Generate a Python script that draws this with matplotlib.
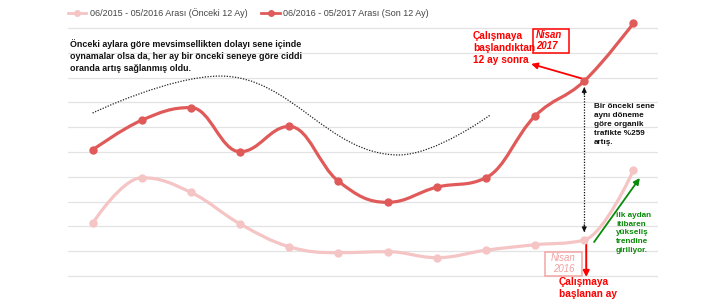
import numpy as np
import matplotlib
matplotlib.use("Agg")
import matplotlib.pyplot as plt
from matplotlib.path import Path
from matplotlib.patches import PathPatch, Rectangle

# monthly organic traffic (in grid units, no axis labels on the chart)
months = np.arange(12)
prev_year = [2.12, 3.96, 3.37, 2.10, 1.18, 0.94, 0.98, 0.74, 1.04, 1.26, 1.45, 4.26]
this_year = [5.08, 6.28, 6.79, 5.01, 6.03, 3.82, 2.97, 3.58, 3.96, 6.45, 7.86, 10.19]
labels = ["06/2015 - 05/2016 Arası (Önceki 12 Ay)", "06/2016 - 05/2017 Arası (Son 12 Ay)"]

# hand-drawn dotted trend sketch over the chart
trend_x = [0, 2.6, 6.23, 8.08]
trend_y = [6.57, 8.06, 4.88, 6.48]

LIGHT = "#f5c4c4"
DARK = "#e05a5a"
RED = "#ff0000"
GREEN = "#0a8a0a"
FONT = "Liberation Sans"
W, H = 724, 300


def spline_path(xs, ys, smoothing=1.5):
    # highcharts style spline: cubic beziers through every point
    n = len(xs)
    right = [None] * n
    left = [None] * n
    d = smoothing + 1
    for i in range(1, n - 1):
        px, py = xs[i], ys[i]
        lx, ly = xs[i - 1], ys[i - 1]
        nx, ny = xs[i + 1], ys[i + 1]
        lcx, lcy = (smoothing * px + lx) / d, (smoothing * py + ly) / d
        rcx, rcy = (smoothing * px + nx) / d, (smoothing * py + ny) / d
        corr = (rcy - lcy) * (rcx - px) / (rcx - lcx) + py - rcy
        lcy += corr
        rcy += corr
        if lcy > ly and lcy > py:
            lcy = max(ly, py); rcy = 2 * py - lcy
        elif lcy < ly and lcy < py:
            lcy = min(ly, py); rcy = 2 * py - lcy
        if rcy > ny and rcy > py:
            rcy = max(ny, py); lcy = 2 * py - rcy
        elif rcy < ny and rcy < py:
            rcy = min(ny, py); lcy = 2 * py - rcy
        left[i] = (lcx, lcy)
        right[i] = (rcx, rcy)
    verts = [(xs[0], ys[0])]
    codes = [Path.MOVETO]
    for i in range(1, n):
        c1 = right[i - 1] or (xs[i - 1], ys[i - 1])
        c2 = left[i] or (xs[i], ys[i])
        verts += [c1, c2, (xs[i], ys[i])]
        codes += [Path.CURVE4] * 3
    return Path(verts, codes)


fig = plt.figure(figsize=(W / 100, H / 100), dpi=100)
ax = fig.add_axes([68 / W, 1 - 283 / H, 590 / W, 263 / H])
ax.set_xlim(-0.5, 11.5)
ax.set_ylim(-0.282, 10.32)
ax.set_yticks(range(11))
ax.set_xticks([])
ax.tick_params(left=False, labelleft=False)
ax.grid(axis="y", color="#e3e3e3", lw=0.9)
ax.set_axisbelow(True)
for s in ax.spines.values():
    s.set_visible(False)

for vals, col in [(prev_year, LIGHT), (this_year, DARK)]:
    ax.add_patch(PathPatch(spline_path(months, vals), fill=False, ec=col, lw=2.3,
                           capstyle="round", joinstyle="round", zorder=3))
    ax.plot(months, vals, "o", color=col, ms=6, mec="none", zorder=4, clip_on=False)

ax.add_patch(PathPatch(spline_path(trend_x, trend_y), fill=False, ec="#222222",
                       lw=0.9, ls=(0, (1, 1.2)), zorder=2))

# legend drawn by hand to match the original placement
for (x0, x1, tx), col, lab in zip([(68, 86, 90), (261, 280, 283)], [LIGHT, DARK], labels):
    fig.add_artist(plt.Line2D([x0 / W, x1 / W], [1 - 13 / H] * 2, color=col, lw=2,
                              transform=fig.transFigure))
    fig.add_artist(plt.Line2D([(x0 + x1) / 2 / W], [1 - 13 / H], marker="o", ms=5,
                              color=col, mec="none", transform=fig.transFigure))
    fig.text(tx / W, 1 - 13 / H, lab, fontsize=6.5, color="#444444", family=FONT,
             va="center", ha="left")


def ftext(x, y, s, **kw):
    kw.setdefault("family", FONT)
    kw.setdefault("fontweight", "bold")
    fig.text(x / W, 1 - y / H, s, va="top", ha="left", **kw)


def fbox(x0, y0, x1, y1, col):
    fig.add_artist(Rectangle((x0 / W, 1 - y1 / H), (x1 - x0) / W, (y1 - y0) / H,
                             fill=False, ec=col, lw=1.1, transform=fig.transFigure))


ftext(70, 39, "Önceki aylara göre mevsimsellikten dolayı sene içinde\n"
      "oynamalar olsa da, her ay bir önceki seneye göre ciddi\n"
      "oranda artış sağlanmış oldu.", fontsize=6.4, color="#111111", linespacing=1.45)

ftext(473, 31, "Çalışmaya\nbaşlandıktan\n12 ay sonra", fontsize=7.3, color=RED,
      linespacing=1.25)
fbox(533, 29, 569, 53, RED)
ftext(536, 30, "Nisan\n2017", fontsize=6.9, color=RED, style="italic", linespacing=1.1)

ftext(594, 103, "Bir önceki sene\naynı döneme\ngöre organik\ntrafikte %259\nartış.",
      fontsize=5.9, color="#111111", linespacing=1.42)

ftext(616, 212, "ilk aydan\nitibaren\nyükseliş\ntrendine\ngiriliyor.",
      fontsize=5.9, color=GREEN, linespacing=1.35)

fbox(545, 252, 582, 276, "#f2a5a5")
fig.text(563.5 / W, 1 - 253 / H, "Nisan\n2016", fontsize=6.9, color="#f0a0a0",
         family=FONT, style="italic", ha="center", va="top", linespacing=1.1)

ftext(559, 277, "Çalışmaya\nbaşlanan ay", fontsize=7.3, color=RED, linespacing=1.2)

# arrows
ax.annotate("", xy=(8.92, 8.55), xytext=(9.97, 7.95),
            arrowprops=dict(arrowstyle="-|>", color=RED, lw=1.3, mutation_scale=9,
                            shrinkA=0, shrinkB=0))
top_y, bot_y = this_year[10] - 0.25, prev_year[10] + 0.32
ax.plot([10, 10], [top_y, bot_y], color="#111111", lw=0.9, ls=(0, (1, 1.2)))
for a, b in [(top_y - 0.3, top_y), (bot_y + 0.3, bot_y)]:
    ax.annotate("", xy=(10, b), xytext=(10, a),
                arrowprops=dict(arrowstyle="-|>", color="#111111", lw=0.8,
                                mutation_scale=7, shrinkA=0, shrinkB=0))
ax.annotate("", xy=(10.04, -0.04), xytext=(10.04, prev_year[10] - 0.15),
            arrowprops=dict(arrowstyle="-|>", color=RED, lw=1.4, mutation_scale=9,
                            shrinkA=0, shrinkB=0), annotation_clip=False)
ax.annotate("", xy=(11.13, 3.95), xytext=(10.2, 1.37),
            arrowprops=dict(arrowstyle="-|>", color=GREEN, lw=1.3, mutation_scale=9,
                            shrinkA=0, shrinkB=0))

fig.savefig("out.png", dpi=100)
